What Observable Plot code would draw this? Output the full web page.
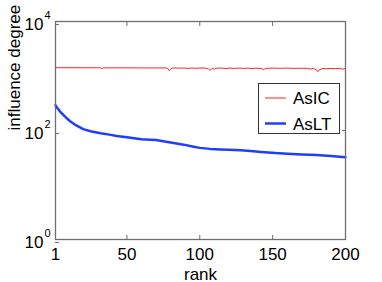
<!DOCTYPE html>
<html><head><meta charset="utf-8">
<script src="https://cdn.jsdelivr.net/npm/d3@7"></script>
<script src="https://cdn.jsdelivr.net/npm/@observablehq/plot@0.6"></script>
<style>
body{margin:0;background:#fff;}
#wrap{position:relative;width:382px;height:282px;font-family:"Liberation Sans",Arial,sans-serif;}
#legend{position:absolute;left:258px;top:83px;width:82px;height:51px;border:1px solid #333;background:#fff;box-sizing:border-box;}
#legend svg{position:absolute;left:0;top:0;}
</style></head><body><div id="wrap"><div id="legend"></div></div>
<script>
const asicRank = [1,30,32,33,34,50,60,70,77,78,79,80,81,90,92,94,97,100,104,106,107,108,109,110,111,115,118,120,124,127,130,133,136,138,140,143,144,145,150,155,160,165,170,174,176,178,180,181,182,184,187,190,193,196,198,199,200];
const asicValue = [1420,1415,1412,1370,1410,1412,1405,1405,1405,1380,1250,1330,1400,1395,1375,1400,1385,1400,1395,1340,1280,1340,1395,1320,1390,1400,1370,1395,1380,1400,1380,1395,1365,1395,1390,1350,1300,1380,1395,1385,1395,1380,1390,1375,1340,1380,1300,1200,1290,1370,1360,1380,1360,1385,1330,1370,1360];
const asltRank = [1,2,4,7,11,15,20,25,32,38,43,50,55,60,66,70,76,82,89,95,100,107,114,120,128,135,142,152,160,170,180,190,200];
const asltValue = [290,265,225,185,148,125,106,97,89,84,79,75,72,69,68,67,63,59,55,51,48,46,45,44.5,43.5,42,40.5,38.5,37.5,36.3,35.5,34,32.3];
const xTicks = [1,50,100,150,200];
const yTicks = [1,100,10000];
const yExponents = ["0","2","4"];
const seriesNames = ["AsIC","AsLT"];
const seriesColors = ["#ff2020","#1f3dff"];
const seriesWidths = [1,2.5];
const xLabel = "rank";
const yLabel = "influence degree";

const asic = asicRank.map((r,i)=>({rank:r,value:asicValue[i]}));
const aslt = asltRank.map((r,i)=>({rank:r,value:asltValue[i]}));
const font = '"Liberation Sans",Arial,sans-serif';
const axisGrey = "#6e6e6e";

const chart = Plot.plot({
  width:382, height:282,
  marginLeft:55, marginRight:37, marginTop:21, marginBottom:43,
  style:{fontFamily:font, fontSize:"17px", color:"#000", background:"#fff", overflow:"visible"},
  x:{domain:[1,200]},
  y:{type:"log", domain:[1,10000]},
  marks:[
    Plot.line(asic,{x:"rank",y:"value",stroke:seriesColors[0],strokeWidth:seriesWidths[0]}),
    Plot.line(aslt,{x:"rank",y:"value",stroke:seriesColors[1],strokeWidth:seriesWidths[1]}),
    Plot.frame({stroke:axisGrey,strokeWidth:1.3}),
    Plot.axisX({ticks:xTicks,tickSize:-4,tickPadding:12,tickFormat:d=>String(d),stroke:axisGrey,label:null,fontSize:17}),
    Plot.axisX({anchor:"top",ticks:xTicks,tickSize:-4,tickFormat:()=>"",stroke:axisGrey,label:null}),
    Plot.axisY({ticks:yTicks,tickSize:-4,tickPadding:16,tickFormat:()=>"10",stroke:axisGrey,label:null,fontSize:17,dy:3}),
    Plot.axisY({anchor:"right",ticks:yTicks,tickSize:-4,tickFormat:()=>"",stroke:axisGrey,label:null}),
    Plot.text(yTicks,{y:d=>d,frameAnchor:"left",dx:-11,dy:-6,text:(d,i)=>yExponents[i],textAnchor:"start",fontSize:11}),
    Plot.text([xLabel],{frameAnchor:"bottom",dy:40,lineAnchor:"bottom",text:d=>d,fontSize:17}),
    Plot.text([yLabel],{frameAnchor:"left",dx:-41,rotate:-90,text:d=>d,fontSize:17})
  ]
});
document.getElementById("wrap").prepend(chart);
chart.style.position="absolute"; chart.style.left="0"; chart.style.top="0";

// legend
const ns="http://www.w3.org/2000/svg";
const lg=document.createElementNS(ns,"svg");
lg.setAttribute("width","82"); lg.setAttribute("height","51");
seriesNames.forEach((name,i)=>{
  const cy = 14 + i*25.5;
  const ln=document.createElementNS(ns,"line");
  ln.setAttribute("x1","6"); ln.setAttribute("x2","27");
  ln.setAttribute("y1",cy); ln.setAttribute("y2",cy);
  ln.setAttribute("stroke",seriesColors[i]); ln.setAttribute("stroke-width",seriesWidths[i]);
  lg.appendChild(ln);
  const t=document.createElementNS(ns,"text");
  t.setAttribute("x","34"); t.setAttribute("y",cy+6);
  t.setAttribute("font-family",font); t.setAttribute("font-size","17");
  t.textContent=name;
  lg.appendChild(t);
});
document.getElementById("legend").appendChild(lg);
</script></body></html>
